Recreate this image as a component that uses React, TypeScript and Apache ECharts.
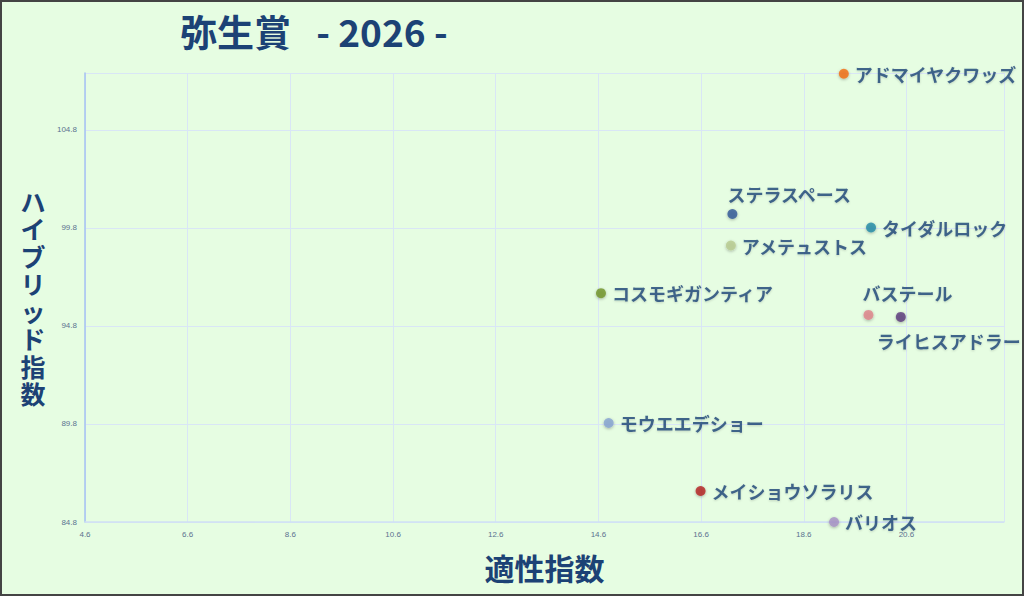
import { useEffect, useRef } from "react";
import * as echarts from "echarts";

// horse names and their two indices
const horses = [
  "アドマイヤクワッズ",
  "ステラスペース",
  "タイダルロック",
  "アメテュストス",
  "コスモギガンティア",
  "バステール",
  "ライヒスアドラー",
  "モウエエデショー",
  "メイショウソラリス",
  "バリオス",
];
const aptitude = [19.38, 17.21, 19.91, 17.18, 14.65, 19.86, 20.49, 14.8, 16.59, 19.19];
const hybrid = [107.66, 100.51, 99.82, 98.9, 96.47, 95.36, 95.26, 89.85, 86.38, 84.8];
const colors = [
  "#f26b0f",
  "#2f5597",
  "#2089a6",
  "#b8cb8f",
  "#6f9227",
  "#df8189",
  "#5a3a7c",
  "#86a2d2",
  "#b41f1f",
  "#a690c6",
];

const xTicks = { min: 4.6, max: 22.5, interval: 2 };
const yTicks = { min: 84.8, max: 107.7, interval: 5 };

const yTitle = "ハイブリッド指数";
const navy = "#1c4275";

// label placement per horse (default: to the right)
const labelPlace: Record<string, any> = {
  ステラスペース: { position: "top", align: "left", offset: [-5, -1] },
  バステール: { position: "top", align: "left", offset: [-6, -3] },
  ライヒスアドラー: { position: "bottom", align: "left", offset: [-24, 5] },
};

const App = () => {
  const ref = useRef<HTMLDivElement | null>(null);

  useEffect(() => {
    if (!ref.current) return;
    const chart = echarts.init(ref.current, null, { renderer: "svg" });

    const data = horses.map((name, i) => ({
      name,
      value: [aptitude[i], hybrid[i]],
      itemStyle: { color: colors[i] },
      label: labelPlace[name] || { position: "right", offset: [1, 0] },
    }));

    // vertical axis title, one glyph per line
    const yTitleChars = yTitle.split("").map((ch, i) => ({
      type: "text",
      x: 31,
      y: 186 + i * 27.5,
      style: {
        text: ch,
        fontFamily: "Noto Sans CJK JP",
        fontSize: 25,
        fontWeight: "bold",
        fill: navy,
        align: "center",
        verticalAlign: "top",
      },
    }));

    chart.setOption({
      animation: false,
      backgroundColor: "#e6fde2",
      title: {
        text: "弥生賞   - 2026 -",
        left: 173,
        top: 5,
        textStyle: {
          fontFamily: "Noto Sans CJK JP",
          fontSize: 37,
          fontWeight: "bold",
          color: navy,
        },
      },
      grid: { left: 83, right: 18, top: 71, bottom: 72 },
      xAxis: {
        type: "value",
        min: xTicks.min,
        max: xTicks.max,
        interval: xTicks.interval,
        name: "適性指数",
        nameLocation: "middle",
        nameGap: 30,
        nameTextStyle: {
          fontFamily: "Noto Sans CJK JP",
          fontSize: 30,
          fontWeight: "bold",
          color: navy,
        },
        axisLine: { show: true, lineStyle: { color: "#cfe0f4", width: 1.5 } },
        axisTick: { show: false },
        axisLabel: {
          showMaxLabel: false,
          fontSize: 8,
          color: "#5b7290",
          margin: 8,
          formatter: (v: number) => v.toFixed(1),
        },
        splitLine: { lineStyle: { color: "#d9e6f6", width: 1 } },
      },
      yAxis: {
        type: "value",
        min: yTicks.min,
        max: yTicks.max,
        interval: yTicks.interval,
        axisLine: { show: true, lineStyle: { color: "#a5c2f0", width: 1.5 } },
        axisTick: { show: false },
        axisLabel: {
          showMaxLabel: false,
          fontSize: 8,
          color: "#5b7290",
          margin: 8,
          formatter: (v: number) => v.toFixed(1),
        },
        splitLine: { lineStyle: { color: "#d9e6f6", width: 1 } },
      },
      graphic: yTitleChars,
      series: [
        {
          type: "scatter",
          symbolSize: 10,
          data,
          itemStyle: {
            shadowBlur: 3,
            shadowColor: "rgba(0,0,0,0.35)",
            shadowOffsetY: 1,
          },
          label: {
            show: true,
            formatter: "{b}",
            fontFamily: "Noto Sans CJK JP",
            fontSize: 18,
            fontWeight: "bold",
            color: navy,
            textShadowBlur: 2,
            textShadowColor: "rgba(0,0,0,0.2)",
            textShadowOffsetY: 1,
          },
        },
      ],
    });

    return () => chart.dispose();
  }, []);

  return (
    <>
      <style>{"body{margin:0}"}</style>
      <div
        style={{
          width: 1024,
          height: 596,
          boxSizing: "border-box",
          border: "2px solid #444",
          background: "#e6fde2",
        }}
      >
        <div ref={ref} style={{ width: 1020, height: 592 }} />
      </div>
    </>
  );
};

export default App;
